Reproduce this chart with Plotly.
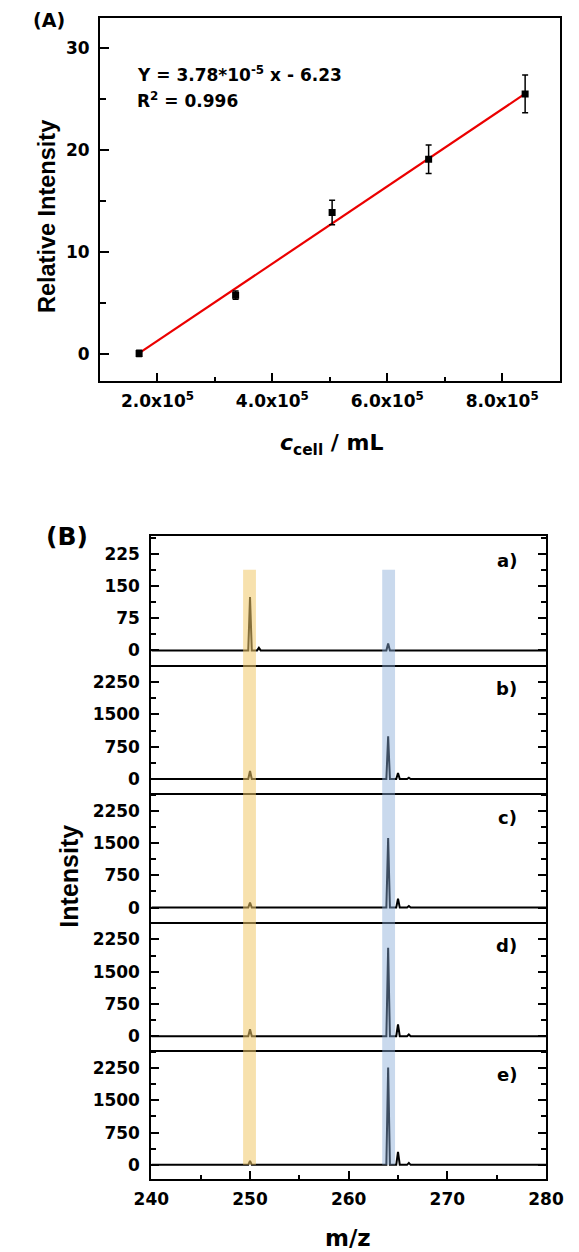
import plotly.graph_objects as go

W, H = 579, 1252

# ---------------- Panel A data ----------------
cells = [1.68e5, 3.36e5, 5.04e5, 6.72e5, 8.40e5]
rel_int = [0.1, 5.8, 13.9, 19.1, 25.5]
rel_err = [0.3, 0.4, 1.2, 1.4, 1.85]
fit_x = [1.68e5, 8.40e5]
fit_y = [0.12, 25.52]
a_xtickvals = [2e5, 4e5, 6e5, 8e5]
a_xticktext = ["2.0x10<sup>5</sup>", "4.0x10<sup>5</sup>", "6.0x10<sup>5</sup>", "8.0x10<sup>5</sup>"]
a_ytickvals = [0, 10, 20, 30]
a_xrange = [1e5, 9e5]
a_yrange = [-2.6, 32.9]
eq_line1 = "Y = 3.78*10<sup>-5</sup> x - 6.23"
eq_line2 = "R<sup>2</sup> = 0.996"

# ---------------- Panel B data ----------------
spec_labels = ["a)", "b)", "c)", "d)", "e)"]
peak_mz = [
    [250.0, 250.9, 264.0],
    [250.0, 264.0, 265.0, 266.1],
    [250.0, 264.0, 265.0, 266.1],
    [250.0, 264.0, 265.0, 266.1],
    [250.0, 264.0, 265.0, 266.1],
]
peak_int = [
    [124, 6, 16],
    [185, 992, 138, 30],
    [115, 1615, 208, 35],
    [160, 2054, 277, 40],
    [90, 2262, 300, 45],
]
mz_range = [240, 280]
b_xtickvals = [240, 250, 260, 270, 280]
b_ytickvals = [[0, 75, 150, 225]] + [[0, 750, 1500, 2250]] * 4
b_yranges = [[-33, 266]] + [[-330, 2660]] * 4
band_lo = [249.3, 263.4]
band_hi = [250.6, 264.7]
band_colors = ["rgb(240,200,105)", "rgb(136,170,216)"]
band_opacity = [0.55, 0.45]
band_top_a = 187.5   # in spectrum a) units
band_bottom_e = 0    # in spectrum e) units

# ---------------- layout geometry (pixels) ----------------
def px_x(p):
    return p / W

def px_y(p):
    return 1 - p / H

A_left, A_right, A_top, A_bottom = 87.5, 577.5, 18.3, 381.0
B_left, B_right, B_top, B_bottom = 142.2, 563.0, 536.0, 1179.0
n_spec = len(spec_labels)
sub_h = (B_bottom - B_top) / n_spec

HFONT = "DejaVu Sans"
VFONT = "Liberation Sans, Arial"

fig = go.Figure()

# Panel A
fig.add_trace(go.Scatter(x=fit_x, y=fit_y, mode="lines",
                         line=dict(color="rgb(235,0,0)", width=2.2),
                         xaxis="x", yaxis="y", showlegend=False))
fig.add_trace(go.Scatter(x=cells, y=rel_int, mode="markers",
                         marker=dict(symbol="square", size=7, color="black"),
                         error_y=dict(type="data", array=rel_err, color="black",
                                      thickness=1.5, width=3),
                         xaxis="x", yaxis="y", showlegend=False))

tickfont = dict(family=HFONT, size=17, color="black", weight="bold")

layout = dict(
    width=W, height=H, autosize=False,
    margin=dict(l=0, r=0, t=0, b=0),
    paper_bgcolor="white", plot_bgcolor="rgba(0,0,0,0)",
    showlegend=False,
    xaxis=dict(domain=[px_x(A_left), px_x(A_right)], range=a_xrange,
               tickvals=a_xtickvals, ticktext=a_xticktext, tickfont=tickfont,
               ticks="inside", ticklen=8, tickwidth=2, tickcolor="black",
               minor=dict(dtick=1e5, tick0=0, ticks="inside", ticklen=4.5, tickwidth=2, tickcolor="black"),
               showline=True, linewidth=2, linecolor="black", mirror=True,
               showgrid=False, zeroline=False, anchor="y", ticklabelstandoff=4,
               ticklabeloverflow="allow"),
    yaxis=dict(domain=[px_y(A_bottom), px_y(A_top)], range=a_yrange,
               tickvals=a_ytickvals, tickfont=tickfont,
               ticks="inside", ticklen=9, tickwidth=2, tickcolor="black",
               minor=dict(dtick=5, tick0=0, ticks="inside", ticklen=6, tickwidth=2, tickcolor="black"),
               showline=True, linewidth=2, linecolor="black", mirror=True,
               showgrid=False, zeroline=False, anchor="x", ticklabelstandoff=5,
               ticklabeloverflow="allow"),
)

shapes = []
annotations = []

dom_list = []
for k in range(n_spec):
    top = B_top + k * sub_h
    bot = top + sub_h
    dom = [px_y(bot), px_y(top)]
    dom_list.append(dom)
    ax_id = k + 2
    xs, ys = [mz_range[0]], [0]
    hw = 0.18
    for m, h in sorted(zip(peak_mz[k], peak_int[k])):
        xs += [m - hw, m, m + hw]
        ys += [0, h, 0]
    xs.append(mz_range[1]); ys.append(0)
    fig.add_trace(go.Scatter(x=xs, y=ys, mode="lines",
                             line=dict(color="black", width=2),
                             xaxis=f"x{ax_id}", yaxis=f"y{ax_id}", showlegend=False))
    last = (k == n_spec - 1)
    minor_y = b_ytickvals[k][1] / 2
    layout[f"xaxis{ax_id}"] = dict(
        domain=[px_x(B_left), px_x(B_right)], range=mz_range, anchor=f"y{ax_id}",
        tickvals=b_xtickvals, showticklabels=last, tickfont=tickfont,
        ticks="inside" if last else "", ticklen=8.5, tickwidth=2, tickcolor="black",
        minor=dict(dtick=5, tick0=0, ticks="inside" if last else "", ticklen=4.5, tickwidth=2, tickcolor="black"),
        showline=True, linewidth=2, linecolor="black", mirror=(k == 0),
        showgrid=False, zeroline=False, ticklabelstandoff=4, ticklabeloverflow="allow")
    layout[f"yaxis{ax_id}"] = dict(
        domain=dom, range=b_yranges[k], anchor=f"x{ax_id}",
        tickvals=b_ytickvals[k], tickfont=tickfont,
        ticks="inside", ticklen=7.5, tickwidth=2, tickcolor="black",
        minor=dict(dtick=minor_y, tick0=0, ticks="inside", ticklen=4.5, tickwidth=2, tickcolor="black"),
        showline=True, linewidth=2, linecolor="black", mirror="ticks",
        showgrid=False, zeroline=False, ticklabelstandoff=6, ticklabeloverflow="allow")
    annotations.append(dict(text=spec_labels[k], xref="paper", yref="paper",
                            x=px_x(534), y=px_y(top + 24), xanchor="right", yanchor="middle",
                            showarrow=False, font=dict(family=HFONT, size=18, color="black", weight="bold")))

def val_to_paper(k, v):
    r0, r1 = b_yranges[k]
    d0, d1 = dom_list[k]
    return d0 + (v - r0) / (r1 - r0) * (d1 - d0)

for lo, hi, col, op in zip(band_lo, band_hi, band_colors, band_opacity):
    shapes.append(dict(type="rect", xref=f"x{n_spec + 1}", yref="paper",
                       x0=lo, x1=hi,
                       y0=val_to_paper(n_spec - 1, band_bottom_e),
                       y1=val_to_paper(0, band_top_a),
                       fillcolor=col, opacity=op, line=dict(width=0), layer="above"))

# Texts
annotations += [
    dict(text="(A)", xref="paper", yref="paper", x=px_x(14), y=px_y(20), xanchor="left", yanchor="middle",
         showarrow=False, font=dict(family=HFONT, size=19, color="black", weight="bold")),
    dict(text="(B)", xref="paper", yref="paper", x=px_x(28), y=px_y(536), xanchor="left", yanchor="middle",
         showarrow=False, font=dict(family=HFONT, size=25, color="black", weight="bold")),
    dict(text=eq_line1, xref="paper", yref="paper", x=px_x(125), y=px_y(74), xanchor="left", yanchor="middle",
         showarrow=False, font=dict(family=HFONT, size=17, color="black", weight="bold")),
    dict(text=eq_line2, xref="paper", yref="paper", x=px_x(125), y=px_y(100), xanchor="left", yanchor="middle",
         showarrow=False, font=dict(family=HFONT, size=17, color="black", weight="bold")),
    dict(text="Relative Intensity", xref="paper", yref="paper", x=px_x(31), y=px_y(217),
         xanchor="center", yanchor="middle", textangle=-90,
         showarrow=False, font=dict(family=VFONT, size=23.5, color="black", weight="bold")),
    dict(text="Intensity", xref="paper", yref="paper", x=px_x(54), y=px_y(876),
         xanchor="center", yanchor="middle", textangle=-90,
         showarrow=False, font=dict(family=VFONT, size=25, color="black", weight="bold")),
    dict(text="<i>c</i><sub>cell</sub> / mL", xref="paper", yref="paper", x=px_x(334), y=px_y(445),
         xanchor="center", yanchor="middle",
         showarrow=False, font=dict(family=HFONT, size=22, color="black", weight="bold")),
    dict(text="m/z", xref="paper", yref="paper", x=px_x(352), y=px_y(1238),
         xanchor="center", yanchor="middle",
         showarrow=False, font=dict(family=HFONT, size=23, color="black", weight="bold")),
]

layout["shapes"] = shapes
layout["annotations"] = annotations
fig.update_layout(**layout)

fig.write_html("out.html", config={"displayModeBar": False},
               post_script="document.body.style.margin='0';document.body.style.overflow='hidden';")
